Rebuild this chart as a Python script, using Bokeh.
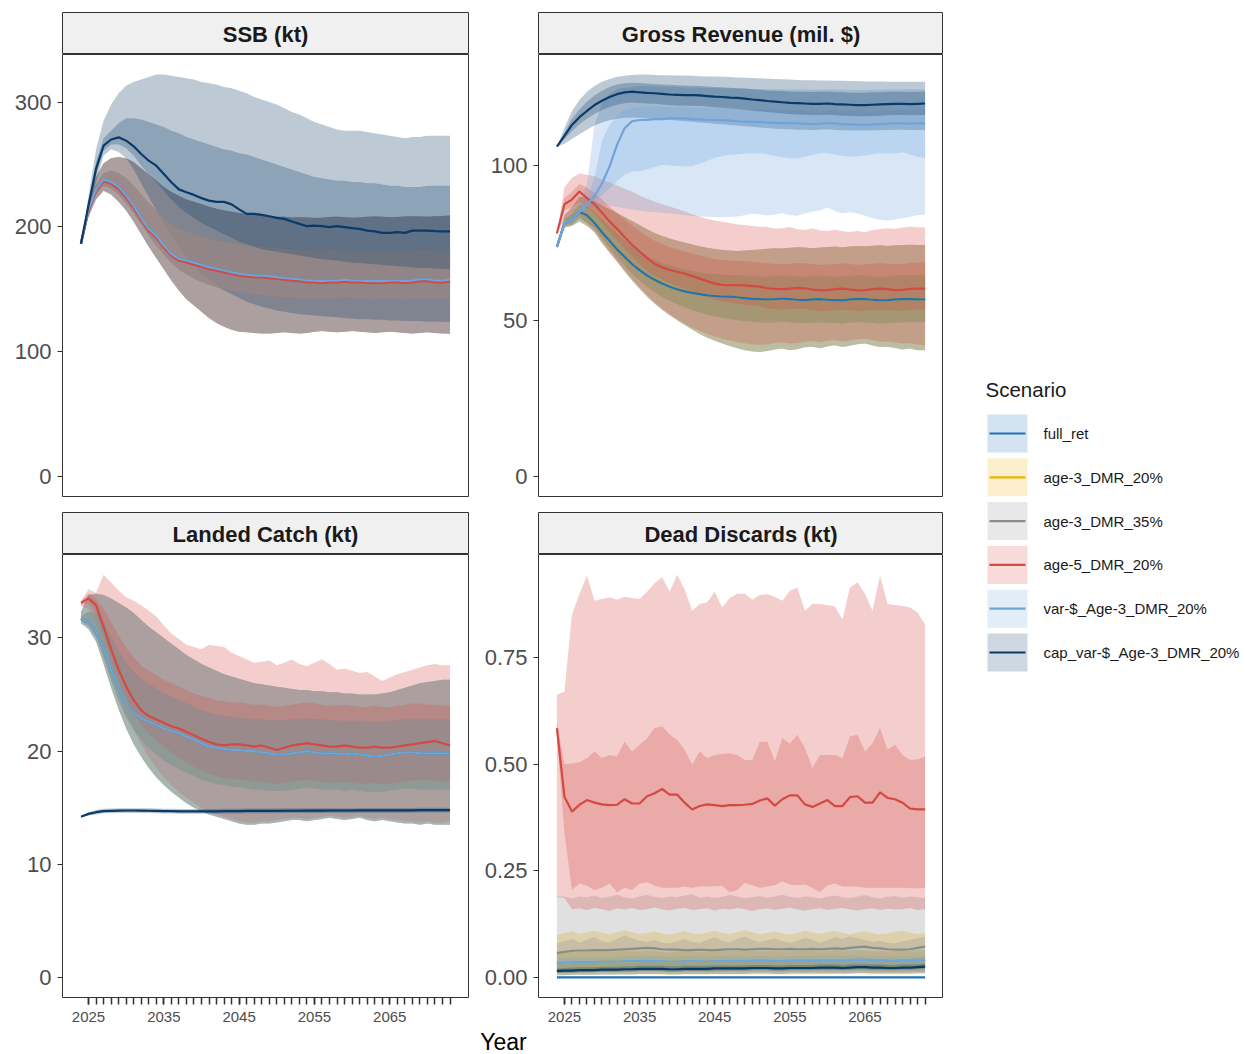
from bokeh.plotting import figure
from bokeh.layouts import column, row
from bokeh.models import Range1d, FixedTicker, NumeralTickFormatter
from bokeh.core.properties import value
from bokeh.embed import file_html
from bokeh.resources import INLINE

YEARS = list(range(2024, 2074))
SCENARIOS = ["full_ret", "age-3_DMR_20%", "age-3_DMR_35%", "age-5_DMR_20%",
             "var-$_Age-3_DMR_20%", "cap_var-$_Age-3_DMR_20%"]
COLORS = ["#2171b5", "#f0b400", "#8c8c8c", "#d44a43", "#6fa3dc", "#0a3a68"]
LINE_ORDER = [2, 1, 0, 3, 4, 5]
PANEL_TITLES = ["SSB (kt)", "Gross Revenue (mil. $)", "Landed Catch (kt)", "Dead Discards (kt)"]
X_LABEL_TICKS = [2025, 2035, 2045, 2055, 2065]
X_MINOR_TICKS = list(range(2025, 2074))
SSB_TICKS = [0, 100, 200, 300]
REV_TICKS = [0, 50, 100]
LAND_TICKS = [0, 10, 20, 30]
DISC_TICKS = [0, 0.25, 0.5, 0.75]

# ---------------- SSB (kt) ----------------
SSB_BASE_MED = [186.4, 214, 230, 238, 236, 232, 225, 217, 207, 198.4,
                193, 185, 178.4, 174.4, 173, 171.2, 169.6, 167.7, 166.4, 165,
                163.7, 162.4, 161.6, 161, 161, 160.5, 159.7, 159, 158.4, 158,
                157, 157, 156.5, 157, 157, 157.6, 157, 157, 156.5, 156.5,
                156.5, 157, 157, 156.5, 157, 158, 158, 157, 157, 157.6]
SSB_AGE5_MED = [186.4, 212.5, 228.5, 236.5, 234.5, 230.3, 223.2, 215.2, 205.4, 196.8,
                191.3, 183.4, 176.9, 172.8, 171.4, 169.7, 168.1, 166.1, 164.9, 163.5,
                162.2, 160.9, 160.1, 159.5, 159.4, 158.9, 158.2, 157.5, 156.9, 156.4,
                155.5, 155.4, 155, 155.4, 155.5, 156.1, 155.4, 155.5, 155, 154.9,
                155, 155.4, 155.5, 155, 155.5, 156.4, 156.5, 155.5, 155.4, 156]
SSB_BASE_HI90 = [186.4, 221, 240, 251, 255, 256, 255, 252, 247, 242,
                 237, 232, 228, 225, 222, 220, 218, 216, 214.5, 213,
                 212, 211, 210, 209.5, 209, 208.5, 208, 208, 207.5, 207.7,
                 207.5, 207, 207.3, 207.8, 208, 207.6, 207.2, 207.5, 208, 208.3,
                 208, 207.6, 207.8, 208.2, 208.5, 208.3, 208, 208.4, 208.7, 209]
SSB_BASE_HI50 = [186.4, 217, 234, 243, 245, 243, 239, 233, 226, 219,
                 213, 207, 202, 198.5, 196, 194, 192, 190.5, 189, 188,
                 187, 186, 185, 184.5, 184, 183.5, 183, 182.5, 182, 182,
                 181.5, 181, 181, 181.5, 181.5, 181, 181, 180.5, 180.5, 181,
                 181, 180.5, 180.5, 181, 181, 181.5, 181.5, 181, 181, 181]
SSB_BASE_LO50 = [186.4, 211, 226, 233, 231, 226, 219, 211, 202, 193,
                 185, 178, 171, 166, 162, 158.5, 156, 153.5, 151.5, 150,
                 148.5, 147.5, 146.5, 145.5, 145, 144.5, 144, 143.5, 143, 142.5,
                 142.5, 142, 142, 142.5, 142.5, 143, 142.5, 142, 141.5, 141.5,
                 142, 142, 142, 141.5, 142, 142.5, 142.5, 142, 142, 142.4]
SSB_BASE_LO90 = [186.4, 208, 222, 229, 226, 220, 213, 204, 194, 184,
                 175, 166, 157, 149, 142, 137, 132, 127, 123, 120,
                 117.5, 116, 115.5, 115, 114.5, 114.5, 115, 115.5, 115, 114.5,
                 115, 116, 116.5, 116, 115.5, 116, 116.5, 116, 115.5, 115,
                 115.5, 116, 115.5, 115, 114.5, 115, 115.5, 115, 114.5, 114.4]
SSB_CAP_MED = [186.4, 217, 246.4, 265, 270, 271.7, 269, 264.5, 258.4, 253,
               249, 242.4, 235.7, 230, 227.7, 225.6, 223, 221, 220, 220,
               218, 214, 210.4, 210.4, 209.6, 208.5, 207.2, 206.4, 204.3, 202.4,
               200.5, 201, 200.5, 199.7, 200.5, 199.7, 199, 198.4, 197, 196.3,
               195.2, 195.2, 195.7, 195.2, 197, 197, 197, 196.5, 196.3, 196.3]
SSB_CAP_HI90 = [186.4, 225, 262, 285, 298, 307, 313, 316, 318, 320,
                322, 322, 321, 320, 319, 318, 316, 315, 314, 312,
                311, 309, 307, 304, 302, 300, 298, 295, 292, 290,
                287, 284, 282, 280, 278, 277, 277, 277, 276, 275,
                274, 273, 272, 271, 272, 272, 273, 273, 273, 273]
SSB_CAP_HI50 = [186.4, 221, 252, 271, 277, 283, 287, 287, 286, 284,
                282, 280, 277, 275, 272, 270, 268, 266, 264, 262,
                261, 259, 258, 256, 254, 252, 250, 248, 246, 244,
                242, 240, 239, 238, 237, 237, 236, 236, 235, 235,
                234, 233, 233, 232, 232, 232, 233, 233, 233, 233]
SSB_CAP_LO50 = [186.4, 213, 241, 261, 266, 266, 263, 257, 249, 242,
                236, 229, 222, 216, 211, 207, 203, 200, 197, 194,
                191, 188, 186, 184, 182, 181, 180, 179, 178, 177,
                176, 175, 174, 173.5, 173, 172, 171.5, 171, 170.5, 170,
                169.5, 169, 168.5, 168, 167.5, 167, 167, 166.5, 166.5, 166]
SSB_CAP_LO90 = [186.4, 209, 236, 257, 262, 260, 255, 246, 235, 224,
                213, 203, 193, 184, 176, 169, 163, 158, 153, 149,
                146, 143, 140, 138, 136, 134.5, 133, 132, 131, 130,
                129.5, 129, 128.5, 128, 127.5, 127, 126.5, 126, 126, 125.5,
                125.5, 125, 125, 124.5, 124.5, 124.5, 124, 124, 124, 123.7]

# ---------------- Gross Revenue (mil. $) ----------------
REV_BASE_MED = [73.8, 81.3, 82.5, 85, 84, 81.5, 78.5, 75.8, 73, 70.6,
                68.3, 66.3, 64.6, 63.2, 62, 61, 60.2, 59.5, 59, 58.6,
                58.2, 58, 57.8, 57.8, 57.6, 57.3, 57.1, 57, 56.9, 57,
                57.2, 57, 56.8, 56.7, 56.9, 57, 56.8, 56.7, 56.6, 56.9,
                57.1, 57, 56.8, 56.6, 56.7, 56.9, 57, 57, 56.9, 56.9]
REV_BASE_HI90 = [73.8, 84, 86.5, 89.9, 89.4, 88.5, 87.2, 86, 84.7, 83.4,
                 82.1, 80.8, 79.5, 78.3, 77.3, 76.5, 75.8, 75.2, 74.6, 74,
                 73.5, 73.1, 72.8, 72.6, 72.5, 72.6, 72.8, 73, 73.2, 73.4,
                 73.3, 73.5, 73.7, 73.6, 73.4, 73.6, 73.8, 73.9, 73.7, 73.9,
                 74.1, 74, 74.2, 74.3, 74.1, 74.3, 74.4, 74.5, 74.4, 74.4]
REV_BASE_HI50 = [73.8, 82.5, 84.3, 87.3, 86.8, 85, 82.6, 80.3, 78, 75.9,
                 74, 72.3, 70.8, 69.6, 68.6, 67.8, 67.1, 66.5, 66, 65.6,
                 65.2, 65, 64.8, 64.8, 64.7, 64.5, 64.4, 64.3, 64.3, 64.4,
                 64.6, 64.4, 64.3, 64.2, 64.4, 64.5, 64.3, 64.2, 64.2, 64.4,
                 64.6, 64.5, 64.3, 64.2, 64.3, 64.5, 64.6, 64.6, 64.6, 64.7]
REV_BASE_LO50 = [73.8, 80.4, 81, 83, 81.5, 79.8, 76.6, 73.5, 70.5, 67.8,
                 65.2, 63, 61, 59.3, 57.8, 56.5, 55.4, 54.4, 53.5, 52.8,
                 52.1, 51.5, 51, 50.6, 50.3, 50, 49.8, 49.6, 49.5, 49.6,
                 49.8, 49.6, 49.4, 49.3, 49.5, 49.6, 49.4, 49.3, 49.2, 49.5,
                 49.7, 49.6, 49.4, 49.2, 49.3, 49.5, 49.6, 49.7, 49.6, 49.7]
REV_BASE_LO90 = [73.8, 80, 80.5, 82, 80.5, 78.5, 75, 72, 69, 66,
                 63, 60.3, 57.8, 55.6, 53.6, 51.8, 50.2, 48.7, 47.2, 45.8,
                 44.6, 43.6, 42.7, 41.9, 41.2, 40.6, 40.2, 40, 40.3, 40.8,
                 41.1, 40.6, 40.9, 41.5, 41.7, 41.2, 41.8, 42.2, 41.6, 42,
                 42.5, 42.7, 42.1, 41.6, 41.7, 41.3, 40.8, 41.1, 40.6, 40.6]
REV_AGE5_MED = [78.1, 87.5, 89, 91.6, 89.5, 87.5, 84.8, 82, 79.6, 77,
                74.5, 72.3, 70.2, 68.4, 67.2, 66.4, 65.8, 65.2, 64.4, 63.6,
                62.8, 62, 61.6, 61.5, 61.5, 61.4, 61.2, 61, 60.5, 60.3,
                60.2, 60.4, 60.6, 60.5, 60.1, 59.8, 59.9, 60.2, 60.4, 60.1,
                59.8, 59.9, 60.2, 60.4, 60.2, 59.9, 60, 60.3, 60.4, 60.4]
REV_AGE5_HI90 = [78.1, 93, 96, 97.4, 97, 96.5, 95.5, 94.5, 93.5, 92.5,
                 91.5, 90.3, 89.3, 88.3, 87.5, 86.8, 86, 85.2, 84.3, 83.5,
                 82.8, 82.3, 81.9, 81.5, 81, 80.8, 80.5, 80.3, 80.2, 79.6,
                 79.8, 80.2, 79.5, 79.2, 79.7, 79.1, 78.9, 79.3, 78.8, 78.6,
                 78.9, 78.5, 79.2, 79.5, 79.8, 79.6, 80, 80.3, 80.1, 80]
REV_AGE5_HI50 = [78.1, 89.5, 91.5, 94, 92.8, 91.2, 89, 86.8, 84.7, 82.6,
                 80.6, 78.8, 77.2, 75.8, 74.7, 73.8, 73, 72.3, 71.6, 71,
                 70.4, 69.9, 69.6, 69.4, 69.3, 69.2, 69, 68.8, 68.5, 68.3,
                 68.2, 68.4, 68.6, 68.5, 68.2, 68, 68.1, 68.3, 68.5, 68.3,
                 68, 68.1, 68.4, 68.6, 68.4, 68.2, 68.3, 68.6, 68.8, 68.9]
REV_AGE5_LO50 = [78.1, 85.5, 86.5, 88.5, 86.5, 84.6, 81.5, 78.6, 75.9, 73.2,
                 70.6, 68.3, 66.2, 64.5, 63.2, 62.1, 61.2, 60.4, 59.5, 58.6,
                 57.7, 56.8, 56.2, 55.8, 55.5, 55.2, 54.9, 54.6, 54.1, 53.8,
                 53.6, 53.8, 54, 53.9, 53.5, 53.1, 53.2, 53.5, 53.7, 53.4,
                 53.1, 53.2, 53.5, 53.7, 53.5, 53.2, 53.3, 53.6, 53.7, 53.7]
REV_AGE5_LO90 = [78.1, 82.5, 82.5, 84, 81.5, 79, 75.5, 72.3, 69.3, 66.3,
                 63.5, 60.8, 58.3, 56, 54, 52.2, 50.6, 49.2, 47.9, 46.8,
                 45.8, 45, 44.3, 43.7, 43.2, 42.8, 42.5, 42.3, 42.5, 42.9,
                 43.1, 42.7, 42.9, 43.3, 43.5, 43.1, 43.6, 43.9, 43.4, 43.7,
                 44.1, 44.3, 43.8, 43.3, 43.4, 43.1, 42.7, 42.9, 42.4, 42.2]
REV_VAR_MED = [73.8, 81.3, 82.5, 85, 87.4, 90.1, 94.2, 99.6, 106.6, 111.9,
               114.2, 114.6, 114.6, 114.9, 114.9, 115.1, 115.1, 115.1, 114.9, 114.8,
               114.6, 114.6, 114.5, 114.4, 114.2, 114.1, 114, 113.9, 113.8, 113.7,
               113.6, 113.6, 113.5, 113.4, 113.3, 113.4, 113.6, 113.5, 113.3, 113.2,
               113.1, 113, 113.2, 113.3, 113.4, 113.5, 113.5, 113.4, 113.5, 113.5]
REV_VAR_HI90 = [73.8, 82.5, 84.5, 88, 94, 113, 120, 123, 124.5, 125,
                125.3, 125.5, 125.6, 125.5, 125.4, 125.3, 125.2, 125.1, 125, 125,
                124.9, 124.9, 124.8, 124.8, 124.7, 124.7, 124.6, 124.6, 124.5, 124.5,
                124.5, 124.4, 124.4, 124.4, 124.3, 124.3, 124.4, 124.4, 124.3, 124.3,
                124.2, 124.2, 124.3, 124.3, 124.4, 124.4, 124.5, 124.5, 124.5, 124.5]
REV_VAR_HI50 = [73.8, 81.8, 83.2, 86, 89, 96, 108, 113, 116, 117.8,
                118.5, 118.8, 118.9, 118.9, 118.8, 118.8, 118.7, 118.7, 118.6, 118.5,
                118.4, 118.4, 118.3, 118.2, 118.1, 118, 118, 117.9, 117.9, 117.8,
                117.8, 117.7, 117.7, 117.6, 117.6, 117.6, 117.7, 117.7, 117.6, 117.5,
                117.5, 117.4, 117.5, 117.6, 117.7, 117.8, 117.8, 117.8, 117.9, 118]
REV_VAR_LO50 = [73.8, 80.8, 81.8, 84, 86.5, 88.5, 90.5, 92.5, 95, 97,
                98, 98.1, 98.8, 99.5, 100.2, 100, 99.8, 99.7, 99.7, 100.5,
                101.5, 102.5, 103, 103.4, 103.6, 103.8, 103.9, 103.9, 103.6, 103,
                102.6, 102.3, 102.3, 102.8, 103.4, 103.9, 103.9, 103.5, 103, 102.9,
                102.9, 103.2, 103.6, 103.9, 103.9, 103.9, 104.2, 103.5, 102.8, 102.3]
REV_VAR_LO90 = [73.8, 80.6, 81.5, 83.5, 85.6, 87, 87.2, 87, 86.6, 86.2,
                85.8, 85.5, 85.2, 85, 84.8, 84.5, 84.3, 84, 83.8, 83.6,
                83.5, 83.4, 83.3, 83.4, 83.6, 84, 84.5, 84.3, 83.9, 84.2,
                84.6, 84, 83.8, 84.5, 85.2, 85.5, 86.5, 85.3, 84.5, 84.9,
                84.5, 83.8, 83, 82.5, 82.3, 82.6, 83, 83.5, 84, 84.2]
REV_CAP_MED = [106, 109.5, 113, 115.5, 117.5, 119.4, 120.8, 122, 122.9, 123.5,
               123.7, 123.5, 123.3, 123.2, 123, 122.8, 122.7, 122.6, 122.6, 122.5,
               122.3, 122.1, 122, 121.8, 121.7, 121.5, 121.2, 121, 120.7, 120.5,
               120.3, 120.1, 120, 119.9, 119.8, 119.8, 119.9, 119.7, 119.6, 119.5,
               119.4, 119.4, 119.5, 119.6, 119.7, 119.8, 119.8, 119.7, 119.8, 119.9]
REV_CAP_HI90 = [106, 112, 117.5, 121, 123.7, 125.5, 126.9, 127.8, 128.5, 128.8,
                129.1, 129.2, 129.2, 129.1, 129, 129, 128.9, 128.9, 128.8, 128.7,
                128.6, 128.6, 128.5, 128.4, 128.3, 128.2, 128.1, 128, 127.9, 127.8,
                127.7, 127.6, 127.5, 127.4, 127.4, 127.3, 127.3, 127.2, 127.2, 127.1,
                127.1, 127, 127, 127, 126.9, 126.9, 126.9, 126.9, 126.9, 126.9]
REV_CAP_HI50 = [106, 110.5, 115, 118, 120.5, 122.5, 124, 125.2, 126, 126.4,
                126.6, 126.5, 126.3, 126.2, 126, 125.9, 125.8, 125.7, 125.6, 125.5,
                125.4, 125.2, 125.1, 125, 124.8, 124.7, 124.5, 124.3, 124.1, 124,
                123.9, 123.8, 123.7, 123.7, 123.6, 123.7, 123.8, 123.6, 123.5, 123.4,
                123.4, 123.4, 123.5, 123.5, 123.6, 123.7, 123.7, 123.6, 123.7, 123.7]
REV_CAP_LO50 = [106, 108.5, 111, 113.2, 115, 116.5, 117.8, 118.8, 119.5, 120,
                120.2, 120.1, 119.9, 119.8, 119.6, 119.4, 119.3, 119.2, 119.2, 119.1,
                118.9, 118.7, 118.5, 118.3, 118.1, 117.9, 117.6, 117.4, 117.1, 116.9,
                116.7, 116.5, 116.4, 116.3, 116.2, 116.2, 116.3, 116.1, 116, 115.9,
                115.8, 115.8, 115.9, 116, 116.1, 116.2, 116.2, 116.1, 116.2, 116.2]
REV_CAP_LO90 = [106, 107, 108.5, 110, 111.5, 112.8, 113.8, 114.5, 115, 115.3,
                115.4, 115.3, 115.1, 115, 114.8, 114.6, 114.4, 114.2, 114, 113.8,
                113.6, 113.4, 113.2, 113, 112.8, 112.6, 112.4, 112.2, 112, 111.8,
                111.7, 111.6, 111.5, 111.5, 111.4, 111.5, 111.6, 111.4, 111.3, 111.2,
                111.2, 111.2, 111.3, 111.3, 111.4, 111.5, 111.5, 111.4, 111.4, 111.4]

# ---------------- Landed Catch (kt) ----------------
LAND_BASE_MED = [31.7, 31.4, 30.6, 29.1, 27.2, 25.5, 24.2, 23.4, 22.9, 22.6,
                 22.3, 22.0, 21.8, 21.6, 21.3, 21.0, 20.7, 20.4, 20.3, 20.2,
                 20.1, 20.1, 20.0, 20.0, 19.9, 19.8, 19.7, 19.7, 19.8, 19.9,
                 20.0, 19.9, 19.8, 19.8, 19.8, 19.7, 19.8, 19.7, 19.6, 19.5,
                 19.6, 19.7, 19.8, 19.9, 19.9, 19.8, 19.8, 19.8, 19.8, 19.8]
LAND_BASE_HI90 = [32.3, 33.8, 33.9, 33.8, 33.5, 33.1, 32.7, 32.2, 31.6, 31.0,
                  30.5, 30.0, 29.5, 29.0, 28.5, 28.1, 27.7, 27.4, 27.1, 26.8,
                  26.6, 26.4, 26.2, 26.0, 25.9, 25.8, 25.7, 25.6, 25.5, 25.4,
                  25.4, 25.3, 25.3, 25.2, 25.2, 25.1, 25.1, 25.0, 25.0, 25.0,
                  25.1, 25.2, 25.4, 25.6, 25.8, 26.0, 26.1, 26.2, 26.3, 26.3]
LAND_BASE_HI50 = [31.9, 32.3, 32.2, 31.4, 30.1, 28.8, 27.8, 27.0, 26.4, 25.9,
                  25.5, 25.1, 24.8, 24.5, 24.2, 23.9, 23.6, 23.4, 23.2, 23.1,
                  23.0, 22.9, 22.9, 22.8, 22.8, 22.7, 22.7, 22.7, 22.8, 22.8,
                  22.9, 22.8, 22.8, 22.7, 22.7, 22.6, 22.7, 22.6, 22.6, 22.5,
                  22.6, 22.6, 22.7, 22.8, 22.8, 22.8, 22.8, 22.8, 22.8, 22.8]
LAND_BASE_LO50 = [31.5, 31.1, 30.1, 28.3, 26.3, 24.5, 23.0, 21.9, 21.0, 20.3,
                  19.7, 19.2, 18.8, 18.4, 18.1, 17.8, 17.5, 17.3, 17.1, 17.0,
                  16.9, 16.8, 16.7, 16.6, 16.6, 16.5, 16.5, 16.5, 16.6, 16.7,
                  16.8, 16.7, 16.6, 16.6, 16.6, 16.5, 16.6, 16.5, 16.4, 16.4,
                  16.4, 16.5, 16.6, 16.7, 16.7, 16.6, 16.6, 16.6, 16.6, 16.6]
LAND_BASE_LO90 = [31.3, 30.8, 29.7, 27.7, 25.6, 23.7, 22.0, 20.6, 19.5, 18.5,
                  17.7, 17.0, 16.4, 15.9, 15.4, 15.0, 14.7, 14.4, 14.2, 14.0,
                  13.8, 13.6, 13.5, 13.5, 13.6, 13.6, 13.7, 13.8, 13.9, 13.9,
                  13.8, 13.9, 14.0, 14.1, 14.0, 13.9, 14.0, 14.1, 13.9, 13.8,
                  13.9, 13.8, 13.7, 13.6, 13.6, 13.5, 13.6, 13.5, 13.5, 13.5]
LAND_AGE5_MED = [33.1, 33.5, 32.9, 31.0, 29.0, 27.2, 25.7, 24.5, 23.6, 23.1,
                 22.8, 22.5, 22.2, 22.0, 21.7, 21.4, 21.1, 20.8, 20.6, 20.5,
                 20.6, 20.6, 20.5, 20.4, 20.5, 20.3, 20.1, 20.3, 20.5, 20.6,
                 20.7, 20.6, 20.5, 20.4, 20.4, 20.5, 20.4, 20.3, 20.3, 20.4,
                 20.3, 20.3, 20.4, 20.5, 20.6, 20.7, 20.8, 20.9, 20.7, 20.5]
LAND_AGE5_HI90 = [33.2, 34.3, 34.0, 35.6, 34.9, 34.2, 33.6, 33.3, 32.9, 32.4,
                  31.9, 31.1, 30.4, 29.9, 29.4, 29.2, 29.0, 29.4, 29.3, 29.2,
                  28.7, 28.4, 28.1, 27.8, 27.9, 28.0, 27.6, 27.8, 28.1, 27.7,
                  27.5, 27.8, 28.1, 27.7, 27.2, 27.3, 27.1, 26.9, 27.0, 26.6,
                  26.2, 26.5, 26.8, 27.0, 27.2, 27.4, 27.6, 27.7, 27.6, 27.6]
LAND_AGE5_HI50 = [33.3, 33.9, 33.5, 32.6, 31.4, 30.2, 29.2, 28.3, 27.6, 27.1,
                  26.7, 26.3, 26.0, 25.7, 25.4, 25.1, 24.9, 24.7, 24.5, 24.4,
                  24.3, 24.3, 24.2, 24.1, 24.1, 24.0, 23.9, 24.0, 24.1, 24.2,
                  24.3, 24.2, 24.1, 24.0, 24.0, 24.1, 24.0, 23.9, 23.9, 24.0,
                  23.9, 23.9, 24.0, 24.1, 24.2, 24.2, 24.1, 24.1, 24.0, 24.0]
LAND_AGE5_LO50 = [32.9, 33.1, 32.2, 30.1, 28.0, 26.2, 24.6, 23.3, 22.3, 21.5,
                  20.9, 20.4, 19.9, 19.4, 19.0, 18.6, 18.3, 18.0, 17.8, 17.6,
                  17.5, 17.5, 17.4, 17.3, 17.3, 17.2, 17.1, 17.2, 17.3, 17.4,
                  17.4, 17.4, 17.3, 17.2, 17.2, 17.3, 17.2, 17.1, 17.1, 17.2,
                  17.1, 17.1, 17.2, 17.3, 17.4, 17.4, 17.4, 17.4, 17.3, 17.3]
LAND_AGE5_LO90 = [32.8, 32.6, 31.3, 29.2, 27.0, 25.1, 23.4, 21.9, 20.6, 19.5,
                  18.5, 17.7, 17.0, 16.4, 15.9, 15.4, 15.0, 14.7, 14.4, 14.2,
                  14.0, 13.8, 13.7, 13.7, 13.8, 13.8, 13.9, 14.0, 14.1, 14.1,
                  14.0, 14.1, 14.2, 14.3, 14.2, 14.1, 14.2, 14.3, 14.1, 14.0,
                  14.1, 14.0, 13.9, 13.8, 13.8, 13.7, 13.8, 13.7, 13.7, 13.8]
LAND_CAP_MED = [14.2, 14.45, 14.6, 14.7, 14.72, 14.74, 14.75, 14.75, 14.74, 14.73,
                14.72, 14.7, 14.69, 14.68, 14.68, 14.67, 14.67, 14.68, 14.68, 14.69,
                14.7, 14.7, 14.71, 14.71, 14.72, 14.72, 14.72, 14.73, 14.73, 14.73,
                14.74, 14.74, 14.74, 14.75, 14.75, 14.75, 14.75, 14.76, 14.76, 14.76,
                14.76, 14.77, 14.77, 14.77, 14.77, 14.78, 14.78, 14.78, 14.78, 14.78]
LAND_CAP_HI90 = [14.2, 14.6, 14.8, 14.9, 14.93, 14.95, 14.96, 14.96, 14.95, 14.94,
                 14.93, 14.91, 14.9, 14.89, 14.89, 14.88, 14.88, 14.89, 14.89, 14.9,
                 14.91, 14.91, 14.92, 14.92, 14.93, 14.93, 14.93, 14.94, 14.94, 14.94,
                 14.95, 14.95, 14.95, 14.96, 14.96, 14.96, 14.96, 14.97, 14.97, 14.97,
                 14.97, 14.98, 14.98, 14.98, 14.98, 14.99, 14.99, 14.99, 14.99, 14.99]
LAND_CAP_HI50 = [14.2, 14.52, 14.68, 14.78, 14.8, 14.82, 14.83, 14.83, 14.82, 14.81,
                 14.8, 14.78, 14.77, 14.76, 14.76, 14.75, 14.75, 14.76, 14.76, 14.77,
                 14.78, 14.78, 14.79, 14.79, 14.8, 14.8, 14.8, 14.81, 14.81, 14.81,
                 14.82, 14.82, 14.82, 14.83, 14.83, 14.83, 14.83, 14.84, 14.84, 14.84,
                 14.84, 14.85, 14.85, 14.85, 14.85, 14.86, 14.86, 14.86, 14.86, 14.86]
LAND_CAP_LO50 = [14.2, 14.38, 14.52, 14.62, 14.64, 14.66, 14.67, 14.67, 14.66, 14.65,
                 14.64, 14.62, 14.61, 14.6, 14.6, 14.59, 14.59, 14.6, 14.6, 14.61,
                 14.62, 14.62, 14.63, 14.63, 14.64, 14.64, 14.64, 14.65, 14.65, 14.65,
                 14.66, 14.66, 14.66, 14.67, 14.67, 14.67, 14.67, 14.68, 14.68, 14.68,
                 14.68, 14.69, 14.69, 14.69, 14.69, 14.7, 14.7, 14.7, 14.7, 14.7]
LAND_CAP_LO90 = [14.2, 14.3, 14.4, 14.5, 14.51, 14.53, 14.54, 14.54, 14.53, 14.52,
                 14.51, 14.49, 14.48, 14.47, 14.47, 14.46, 14.46, 14.47, 14.47, 14.48,
                 14.49, 14.49, 14.5, 14.5, 14.51, 14.51, 14.51, 14.52, 14.52, 14.52,
                 14.53, 14.53, 14.53, 14.54, 14.54, 14.54, 14.54, 14.55, 14.55, 14.55,
                 14.55, 14.56, 14.56, 14.56, 14.56, 14.57, 14.57, 14.57, 14.57, 14.57]

# ---------------- Dead Discards (kt) ----------------
DISC_FULL = [0, 0, 0, 0, 0, 0, 0, 0, 0, 0,
             0, 0, 0, 0, 0, 0, 0, 0, 0, 0,
             0, 0, 0, 0, 0, 0, 0, 0, 0, 0,
             0, 0, 0, 0, 0, 0, 0, 0, 0, 0,
             0, 0, 0, 0, 0, 0, 0, 0, 0, 0]
DISC_A320_MED = [0.034, 0.035, 0.035, 0.036, 0.036, 0.036, 0.037, 0.037, 0.037, 0.038,
                 0.038, 0.038, 0.039, 0.038, 0.038, 0.037, 0.037, 0.038, 0.038, 0.038,
                 0.037, 0.038, 0.038, 0.039, 0.039, 0.038, 0.039, 0.039, 0.039, 0.038,
                 0.038, 0.039, 0.039, 0.038, 0.039, 0.039, 0.039, 0.040, 0.039, 0.040,
                 0.040, 0.039, 0.039, 0.039, 0.038, 0.038, 0.039, 0.039, 0.040, 0.040]
DISC_A320_HI90 = [0.100, 0.104, 0.108, 0.102, 0.106, 0.110, 0.104, 0.101, 0.106, 0.111,
                  0.105, 0.102, 0.104, 0.108, 0.103, 0.100, 0.104, 0.109, 0.103, 0.101,
                  0.105, 0.110, 0.104, 0.102, 0.106, 0.111, 0.105, 0.101, 0.104, 0.108,
                  0.103, 0.100, 0.104, 0.110, 0.105, 0.102, 0.106, 0.109, 0.104, 0.101,
                  0.105, 0.108, 0.104, 0.101, 0.103, 0.107, 0.110, 0.105, 0.102, 0.104]
DISC_A320_HI50 = [0.055, 0.058, 0.060, 0.058, 0.061, 0.063, 0.059, 0.058, 0.061, 0.064,
                  0.060, 0.058, 0.060, 0.062, 0.059, 0.057, 0.060, 0.063, 0.059, 0.058,
                  0.060, 0.063, 0.060, 0.058, 0.061, 0.064, 0.060, 0.058, 0.060, 0.062,
                  0.059, 0.057, 0.060, 0.063, 0.060, 0.058, 0.061, 0.063, 0.060, 0.058,
                  0.060, 0.062, 0.060, 0.058, 0.059, 0.061, 0.063, 0.060, 0.059, 0.060]
DISC_A320_LO50 = [0.016, 0.017, 0.018, 0.018, 0.018, 0.019, 0.019, 0.018, 0.019, 0.019,
                  0.019, 0.020, 0.020, 0.019, 0.019, 0.018, 0.018, 0.019, 0.019, 0.019,
                  0.018, 0.019, 0.019, 0.020, 0.020, 0.019, 0.020, 0.020, 0.020, 0.019,
                  0.019, 0.020, 0.020, 0.019, 0.020, 0.020, 0.020, 0.020, 0.020, 0.020,
                  0.021, 0.020, 0.020, 0.020, 0.019, 0.019, 0.020, 0.020, 0.020, 0.021]
DISC_A320_LO90 = [0.005, 0.005, 0.006, 0.006, 0.006, 0.006, 0.007, 0.006, 0.007, 0.007,
                  0.007, 0.007, 0.007, 0.007, 0.006, 0.006, 0.006, 0.007, 0.007, 0.007,
                  0.006, 0.007, 0.007, 0.007, 0.007, 0.007, 0.007, 0.007, 0.007, 0.007,
                  0.007, 0.007, 0.007, 0.007, 0.007, 0.007, 0.007, 0.008, 0.007, 0.008,
                  0.008, 0.007, 0.007, 0.007, 0.007, 0.007, 0.007, 0.007, 0.008, 0.008]
DISC_A335_MED = [0.057, 0.060, 0.062, 0.063, 0.063, 0.064, 0.064, 0.064, 0.065, 0.066,
                 0.067, 0.068, 0.069, 0.068, 0.066, 0.065, 0.065, 0.064, 0.064, 0.065,
                 0.064, 0.064, 0.065, 0.066, 0.066, 0.065, 0.066, 0.067, 0.067, 0.066,
                 0.066, 0.067, 0.066, 0.066, 0.067, 0.066, 0.067, 0.068, 0.067, 0.069,
                 0.071, 0.072, 0.069, 0.068, 0.066, 0.065, 0.065, 0.066, 0.069, 0.072]
DISC_A335_HI90 = [0.190, 0.190, 0.185, 0.190, 0.188, 0.192, 0.186, 0.190, 0.194, 0.188,
                  0.185, 0.190, 0.193, 0.189, 0.186, 0.190, 0.188, 0.192, 0.195, 0.187,
                  0.190, 0.186, 0.189, 0.193, 0.190, 0.186, 0.188, 0.191, 0.187, 0.190,
                  0.194, 0.189, 0.186, 0.190, 0.188, 0.185, 0.189, 0.192, 0.188, 0.186,
                  0.190, 0.193, 0.188, 0.185, 0.189, 0.191, 0.187, 0.190, 0.188, 0.186]
DISC_A335_HI50 = [0.080, 0.085, 0.090, 0.082, 0.088, 0.095, 0.085, 0.082, 0.090, 0.098,
                  0.092, 0.086, 0.083, 0.088, 0.082, 0.080, 0.085, 0.090, 0.083, 0.081,
                  0.088, 0.094, 0.086, 0.082, 0.090, 0.096, 0.088, 0.083, 0.087, 0.092,
                  0.085, 0.081, 0.086, 0.093, 0.088, 0.082, 0.087, 0.095, 0.090, 0.096,
                  0.092, 0.088, 0.083, 0.086, 0.082, 0.080, 0.084, 0.088, 0.092, 0.095]
DISC_A335_LO50 = [0.032, 0.034, 0.035, 0.036, 0.035, 0.036, 0.037, 0.036, 0.037, 0.038,
                  0.038, 0.039, 0.039, 0.038, 0.037, 0.037, 0.036, 0.036, 0.037, 0.037,
                  0.036, 0.037, 0.037, 0.038, 0.038, 0.037, 0.038, 0.038, 0.039, 0.038,
                  0.038, 0.038, 0.038, 0.038, 0.039, 0.038, 0.039, 0.039, 0.039, 0.040,
                  0.041, 0.041, 0.040, 0.039, 0.038, 0.038, 0.038, 0.039, 0.040, 0.041]
DISC_A335_LO90 = [0.010, 0.011, 0.012, 0.012, 0.012, 0.013, 0.013, 0.012, 0.013, 0.013,
                  0.013, 0.014, 0.014, 0.013, 0.013, 0.012, 0.012, 0.013, 0.013, 0.013,
                  0.012, 0.013, 0.013, 0.014, 0.014, 0.013, 0.014, 0.014, 0.014, 0.013,
                  0.013, 0.014, 0.014, 0.013, 0.014, 0.014, 0.014, 0.014, 0.014, 0.014,
                  0.015, 0.014, 0.014, 0.014, 0.013, 0.013, 0.014, 0.014, 0.014, 0.015]
DISC_A5_MED = [0.585, 0.424, 0.389, 0.405, 0.416, 0.410, 0.406, 0.404, 0.405, 0.418,
               0.408, 0.408, 0.425, 0.432, 0.442, 0.429, 0.429, 0.410, 0.394, 0.402,
               0.406, 0.404, 0.402, 0.404, 0.404, 0.405, 0.407, 0.415, 0.420, 0.403,
               0.418, 0.427, 0.427, 0.406, 0.400, 0.408, 0.416, 0.402, 0.402, 0.423,
               0.425, 0.410, 0.410, 0.434, 0.421, 0.418, 0.410, 0.396, 0.394, 0.394]
DISC_A5_HI90 = [0.663, 0.671, 0.852, 0.900, 0.943, 0.884, 0.888, 0.892, 0.886, 0.893,
                0.890, 0.888, 0.905, 0.925, 0.939, 0.905, 0.945, 0.910, 0.860, 0.876,
                0.880, 0.905, 0.868, 0.890, 0.900, 0.900, 0.886, 0.897, 0.899, 0.893,
                0.884, 0.907, 0.915, 0.860, 0.876, 0.876, 0.874, 0.870, 0.840, 0.915,
                0.927, 0.900, 0.860, 0.943, 0.876, 0.874, 0.872, 0.868, 0.856, 0.828]
DISC_A5_HI50 = [0.600, 0.500, 0.502, 0.505, 0.514, 0.530, 0.515, 0.522, 0.518, 0.553,
                0.530, 0.546, 0.561, 0.585, 0.589, 0.570, 0.557, 0.534, 0.499, 0.530,
                0.514, 0.522, 0.524, 0.526, 0.522, 0.510, 0.510, 0.553, 0.553, 0.507,
                0.561, 0.549, 0.569, 0.538, 0.491, 0.522, 0.522, 0.522, 0.514, 0.565,
                0.569, 0.530, 0.549, 0.585, 0.534, 0.546, 0.522, 0.510, 0.512, 0.518]
DISC_A5_LO50 = [0.570, 0.340, 0.205, 0.220, 0.215, 0.205, 0.210, 0.220, 0.200, 0.210,
                0.205, 0.220, 0.223, 0.215, 0.210, 0.210, 0.210, 0.213, 0.210, 0.213,
                0.213, 0.214, 0.215, 0.200, 0.205, 0.222, 0.216, 0.210, 0.213, 0.216,
                0.225, 0.218, 0.216, 0.218, 0.210, 0.200, 0.216, 0.220, 0.213, 0.213,
                0.213, 0.210, 0.210, 0.210, 0.210, 0.210, 0.210, 0.209, 0.209, 0.210]
DISC_A5_LO90 = [0.188, 0.186, 0.160, 0.162, 0.158, 0.163, 0.160, 0.156, 0.162, 0.159,
                0.163, 0.158, 0.160, 0.164, 0.159, 0.157, 0.161, 0.163, 0.158, 0.160,
                0.162, 0.157, 0.161, 0.159, 0.163, 0.160, 0.156, 0.160, 0.162, 0.158,
                0.161, 0.164, 0.159, 0.157, 0.160, 0.162, 0.158, 0.161, 0.163, 0.159,
                0.157, 0.160, 0.162, 0.158, 0.161, 0.159, 0.160, 0.163, 0.158, 0.160]
DISC_VAR_MED = [0.034, 0.035, 0.035, 0.036, 0.036, 0.036, 0.037, 0.037, 0.037, 0.038,
                0.038, 0.038, 0.039, 0.038, 0.038, 0.037, 0.037, 0.038, 0.038, 0.038,
                0.037, 0.038, 0.038, 0.039, 0.039, 0.038, 0.039, 0.039, 0.039, 0.038,
                0.038, 0.039, 0.039, 0.038, 0.039, 0.039, 0.039, 0.040, 0.039, 0.040,
                0.040, 0.039, 0.039, 0.039, 0.038, 0.038, 0.039, 0.039, 0.040, 0.040]
DISC_VAR_HI90 = [0.055, 0.057, 0.058, 0.060, 0.059, 0.061, 0.062, 0.060, 0.061, 0.063,
                 0.062, 0.061, 0.063, 0.062, 0.060, 0.059, 0.061, 0.062, 0.061, 0.060,
                 0.060, 0.062, 0.062, 0.063, 0.063, 0.061, 0.063, 0.063, 0.062, 0.061,
                 0.061, 0.063, 0.063, 0.061, 0.063, 0.063, 0.062, 0.064, 0.063, 0.064,
                 0.065, 0.063, 0.062, 0.062, 0.061, 0.061, 0.062, 0.063, 0.064, 0.065]
DISC_VAR_HI50 = [0.044, 0.045, 0.046, 0.047, 0.047, 0.047, 0.048, 0.048, 0.048, 0.049,
                 0.049, 0.049, 0.050, 0.049, 0.049, 0.048, 0.048, 0.049, 0.049, 0.049,
                 0.048, 0.049, 0.049, 0.050, 0.050, 0.049, 0.050, 0.050, 0.050, 0.049,
                 0.049, 0.050, 0.050, 0.049, 0.050, 0.050, 0.050, 0.051, 0.050, 0.051,
                 0.051, 0.050, 0.050, 0.050, 0.049, 0.049, 0.050, 0.050, 0.051, 0.051]
DISC_VAR_LO50 = [0.025, 0.026, 0.026, 0.027, 0.027, 0.027, 0.028, 0.028, 0.028, 0.028,
                 0.028, 0.028, 0.029, 0.028, 0.028, 0.027, 0.027, 0.028, 0.028, 0.028,
                 0.027, 0.028, 0.028, 0.029, 0.029, 0.028, 0.029, 0.029, 0.029, 0.028,
                 0.028, 0.029, 0.029, 0.028, 0.029, 0.029, 0.029, 0.030, 0.029, 0.030,
                 0.030, 0.029, 0.029, 0.029, 0.028, 0.028, 0.029, 0.029, 0.030, 0.030]
DISC_VAR_LO90 = [0.017, 0.018, 0.018, 0.019, 0.019, 0.019, 0.019, 0.019, 0.019, 0.020,
                 0.020, 0.020, 0.020, 0.020, 0.019, 0.019, 0.019, 0.020, 0.020, 0.020,
                 0.019, 0.020, 0.020, 0.020, 0.020, 0.020, 0.020, 0.020, 0.020, 0.020,
                 0.020, 0.020, 0.020, 0.020, 0.020, 0.020, 0.020, 0.021, 0.020, 0.021,
                 0.021, 0.020, 0.020, 0.020, 0.020, 0.020, 0.020, 0.020, 0.021, 0.021]
DISC_CAP_MED = [0.015, 0.016, 0.016, 0.017, 0.017, 0.017, 0.018, 0.018, 0.018, 0.019,
                0.019, 0.020, 0.020, 0.020, 0.020, 0.019, 0.019, 0.020, 0.020, 0.020,
                0.020, 0.021, 0.021, 0.021, 0.021, 0.021, 0.022, 0.022, 0.022, 0.021,
                0.021, 0.022, 0.022, 0.022, 0.022, 0.023, 0.023, 0.023, 0.022, 0.023,
                0.024, 0.024, 0.023, 0.023, 0.022, 0.022, 0.023, 0.023, 0.024, 0.025]
DISC_CAP_HI90 = [0.034, 0.035, 0.036, 0.037, 0.037, 0.037, 0.038, 0.038, 0.038, 0.039,
                 0.039, 0.040, 0.040, 0.040, 0.040, 0.039, 0.039, 0.040, 0.040, 0.040,
                 0.040, 0.041, 0.041, 0.041, 0.041, 0.041, 0.042, 0.042, 0.042, 0.041,
                 0.041, 0.042, 0.042, 0.042, 0.042, 0.043, 0.043, 0.043, 0.042, 0.043,
                 0.044, 0.044, 0.043, 0.043, 0.042, 0.042, 0.043, 0.043, 0.044, 0.045]
DISC_CAP_HI50 = [0.021, 0.022, 0.023, 0.024, 0.024, 0.024, 0.025, 0.025, 0.025, 0.026,
                 0.026, 0.027, 0.027, 0.027, 0.027, 0.026, 0.026, 0.027, 0.027, 0.027,
                 0.027, 0.028, 0.028, 0.028, 0.028, 0.028, 0.029, 0.029, 0.029, 0.028,
                 0.028, 0.029, 0.029, 0.029, 0.029, 0.030, 0.030, 0.030, 0.029, 0.030,
                 0.031, 0.031, 0.030, 0.030, 0.029, 0.029, 0.030, 0.030, 0.031, 0.032]
DISC_CAP_LO50 = [0.010, 0.011, 0.011, 0.012, 0.012, 0.012, 0.013, 0.013, 0.013, 0.014,
                 0.014, 0.015, 0.015, 0.015, 0.015, 0.014, 0.014, 0.015, 0.015, 0.015,
                 0.015, 0.016, 0.016, 0.016, 0.016, 0.016, 0.017, 0.017, 0.017, 0.016,
                 0.016, 0.017, 0.017, 0.017, 0.017, 0.018, 0.018, 0.018, 0.017, 0.018,
                 0.019, 0.019, 0.018, 0.018, 0.017, 0.017, 0.018, 0.018, 0.019, 0.020]
DISC_CAP_LO90 = [0.005, 0.005, 0.006, 0.006, 0.006, 0.006, 0.007, 0.007, 0.007, 0.007,
                 0.007, 0.008, 0.008, 0.008, 0.008, 0.007, 0.007, 0.008, 0.008, 0.008,
                 0.008, 0.008, 0.008, 0.008, 0.008, 0.008, 0.009, 0.009, 0.009, 0.008,
                 0.008, 0.009, 0.009, 0.009, 0.009, 0.009, 0.009, 0.009, 0.009, 0.009,
                 0.010, 0.010, 0.009, 0.009, 0.009, 0.009, 0.009, 0.009, 0.010, 0.010]

# scenario -> (lo90, lo50, median, hi50, hi90)
SSB_BASE = (SSB_BASE_LO90, SSB_BASE_LO50, SSB_BASE_MED, SSB_BASE_HI50, SSB_BASE_HI90)
SSB = {
    SCENARIOS[0]: SSB_BASE, SCENARIOS[1]: SSB_BASE, SCENARIOS[2]: SSB_BASE,
    SCENARIOS[3]: (SSB_BASE_LO90, SSB_BASE_LO50, SSB_AGE5_MED, SSB_BASE_HI50, SSB_BASE_HI90),
    SCENARIOS[4]: SSB_BASE,
    SCENARIOS[5]: (SSB_CAP_LO90, SSB_CAP_LO50, SSB_CAP_MED, SSB_CAP_HI50, SSB_CAP_HI90),
}
REV_BASE = (REV_BASE_LO90, REV_BASE_LO50, REV_BASE_MED, REV_BASE_HI50, REV_BASE_HI90)
REV = {
    SCENARIOS[0]: REV_BASE, SCENARIOS[1]: REV_BASE, SCENARIOS[2]: REV_BASE,
    SCENARIOS[3]: (REV_AGE5_LO90, REV_AGE5_LO50, REV_AGE5_MED, REV_AGE5_HI50, REV_AGE5_HI90),
    SCENARIOS[4]: (REV_VAR_LO90, REV_VAR_LO50, REV_VAR_MED, REV_VAR_HI50, REV_VAR_HI90),
    SCENARIOS[5]: (REV_CAP_LO90, REV_CAP_LO50, REV_CAP_MED, REV_CAP_HI50, REV_CAP_HI90),
}
LAND_BASE = (LAND_BASE_LO90, LAND_BASE_LO50, LAND_BASE_MED, LAND_BASE_HI50, LAND_BASE_HI90)
LAND = {
    SCENARIOS[0]: LAND_BASE, SCENARIOS[1]: LAND_BASE, SCENARIOS[2]: LAND_BASE,
    SCENARIOS[3]: (LAND_AGE5_LO90, LAND_AGE5_LO50, LAND_AGE5_MED, LAND_AGE5_HI50, LAND_AGE5_HI90),
    SCENARIOS[4]: LAND_BASE,
    SCENARIOS[5]: (LAND_CAP_LO90, LAND_CAP_LO50, LAND_CAP_MED, LAND_CAP_HI50, LAND_CAP_HI90),
}
DISC = {
    SCENARIOS[0]: (DISC_FULL, DISC_FULL, DISC_FULL, DISC_FULL, DISC_FULL),
    SCENARIOS[1]: (DISC_A320_LO90, DISC_A320_LO50, DISC_A320_MED, DISC_A320_HI50, DISC_A320_HI90),
    SCENARIOS[2]: (DISC_A335_LO90, DISC_A335_LO50, DISC_A335_MED, DISC_A335_HI50, DISC_A335_HI90),
    SCENARIOS[3]: (DISC_A5_LO90, DISC_A5_LO50, DISC_A5_MED, DISC_A5_HI50, DISC_A5_HI90),
    SCENARIOS[4]: (DISC_VAR_LO90, DISC_VAR_LO50, DISC_VAR_MED, DISC_VAR_HI50, DISC_VAR_HI90),
    SCENARIOS[5]: (DISC_CAP_LO90, DISC_CAP_LO50, DISC_CAP_MED, DISC_CAP_HI50, DISC_CAP_HI90),
}

FONT = "Liberation Sans"
BAND_ALPHA = 0.27
DARK = "#333333"
TICK_TXT = "#4d4d4d"
XPAD = 0.05 * (YEARS[-1] - YEARS[0])


def make_panel(data, yticks, frame_w, frame_h, left, right, bottom, show_x, fmt=None):
    ymax = max(max(v[4]) for v in data.values())
    p = figure(frame_width=frame_w, frame_height=frame_h,
               x_range=Range1d(YEARS[0] - XPAD, YEARS[-1] + XPAD),
               y_range=Range1d(-0.05 * ymax, 1.05 * ymax),
               output_backend="svg", toolbar_location=None,
               x_axis_location="below" if show_x else None,
               min_border_left=left, min_border_right=right,
               min_border_top=0, min_border_bottom=bottom)
    p.grid.visible = False
    p.outline_line_color = DARK
    p.outline_line_width = 1
    p.background_fill_color = "white"
    # outer (5-95%) ribbons, then inner (25-75%) ribbons, then medians
    for idx in ((0, 4), (1, 3)):
        for s, c in zip(SCENARIOS, COLORS):
            v = data[s]
            p.varea(x=YEARS, y1=v[idx[0]], y2=v[idx[1]], fill_color=c, fill_alpha=BAND_ALPHA)
    for i in LINE_ORDER:
        p.line(x=YEARS, y=data[SCENARIOS[i]][2], line_color=COLORS[i], line_width=2.2)
    ya = p.yaxis[0]
    ya.ticker = FixedTicker(ticks=yticks)
    if fmt is not None:
        ya.formatter = fmt
    ya.axis_line_color = None
    ya.major_tick_line_color = DARK
    ya.major_tick_out = 5
    ya.major_tick_in = 0
    ya.minor_tick_line_color = None
    ya.major_label_text_font = FONT
    ya.major_label_text_font_size = "22px"
    ya.major_label_text_color = TICK_TXT
    ya.major_label_standoff = 6
    if show_x:
        xa = p.xaxis[0]
        xa.ticker = FixedTicker(ticks=X_LABEL_TICKS, minor_ticks=X_MINOR_TICKS)
        xa.axis_line_color = None
        xa.major_tick_line_color = DARK
        xa.minor_tick_line_color = DARK
        xa.major_tick_line_width = 1.5
        xa.minor_tick_line_width = 1.5
        xa.major_tick_out = 7
        xa.major_tick_in = 0
        xa.minor_tick_out = 7
        xa.minor_tick_in = 0
        xa.major_label_text_font = FONT
        xa.major_label_text_font_size = "15px"
        xa.major_label_text_color = TICK_TXT
        xa.major_label_standoff = 7
    return p


def make_strip(title, frame_w, left, right, top):
    s = figure(frame_width=frame_w, frame_height=42, x_range=Range1d(0, 1), y_range=Range1d(0, 1),
               output_backend="svg", toolbar_location=None,
               x_axis_location=None, y_axis_location=None,
               min_border_left=left, min_border_right=right, min_border_top=top, min_border_bottom=0)
    s.grid.visible = False
    s.background_fill_color = "#f0f0f0"
    s.outline_line_color = DARK
    s.outline_line_width = 1
    s.text(x=[0.5], y=[0.47], text=[title], text_align="center", text_baseline="middle",
           text_font=value(FONT), text_font_style="bold", text_font_size="22px", text_color="#1a1a1a")
    return s


LW, RW = 406, 405
L_LEFT, L_RIGHT = 62, 10
R_LEFT, R_RIGHT = 60, 0
TOP = 12
BOTTOM_AXIS = 29

s1 = make_strip(PANEL_TITLES[0], LW, L_LEFT, L_RIGHT, TOP)
p1 = make_panel(SSB, SSB_TICKS, LW, 442, L_LEFT, L_RIGHT, 16, False)
s3 = make_strip(PANEL_TITLES[2], LW, L_LEFT, L_RIGHT, 0)
p3 = make_panel(LAND, LAND_TICKS, LW, 443, L_LEFT, L_RIGHT, BOTTOM_AXIS, True)

s2 = make_strip(PANEL_TITLES[1], RW, R_LEFT, R_RIGHT, TOP)
p2 = make_panel(REV, REV_TICKS, RW, 442, R_LEFT, R_RIGHT, 16, False)
s4 = make_strip(PANEL_TITLES[3], RW, R_LEFT, R_RIGHT, 0)
p4 = make_panel(DISC, DISC_TICKS, RW, 443, R_LEFT, R_RIGHT, BOTTOM_AXIS, True,
                fmt=NumeralTickFormatter(format="0.00"))

MAIN_H = TOP + 42 + 442 + 16 + 42 + 443 + BOTTOM_AXIS   # 1026
MAIN_W = L_LEFT + LW + L_RIGHT + R_LEFT + RW + R_RIGHT  # 943

# legend
LEG_W = 1245 - MAIN_W
lg = figure(frame_width=LEG_W, frame_height=MAIN_H, x_range=Range1d(0, LEG_W), y_range=Range1d(0, MAIN_H),
            output_backend="svg", toolbar_location=None, x_axis_location=None, y_axis_location=None,
            min_border_left=0, min_border_right=0, min_border_top=0, min_border_bottom=0)
lg.grid.visible = False
lg.outline_line_color = None
key_y = [MAIN_H - (433 + 43.8 * i) for i in range(len(SCENARIOS))]
lg.quad(left=[44] * 6, right=[84] * 6, top=[y + 19 for y in key_y], bottom=[y - 19 for y in key_y],
        fill_color=COLORS, fill_alpha=0.2, line_color=None)
lg.segment(x0=[46] * 6, y0=key_y, x1=[82] * 6, y1=key_y, line_color=COLORS, line_width=2.2)
lg.text(x=[100] * 6, y=key_y, text=SCENARIOS, text_baseline="middle", text_align="left",
        text_font=value(FONT), text_font_size="15px", text_color="#1a1a1a")
lg.text(x=[42], y=[MAIN_H - 389], text=["Scenario"], text_baseline="middle", text_align="left",
        text_font=value(FONT), text_font_size="20.5px", text_color="#1a1a1a")

# shared x-axis title
YEAR_H = 1054 - MAIN_H
yf = figure(frame_width=MAIN_W, frame_height=YEAR_H, x_range=Range1d(0, MAIN_W), y_range=Range1d(0, YEAR_H),
            output_backend="svg", toolbar_location=None, x_axis_location=None, y_axis_location=None,
            min_border_left=0, min_border_right=0, min_border_top=0, min_border_bottom=0)
yf.grid.visible = False
yf.outline_line_color = None
yf.text(x=[503], y=[YEAR_H / 2 - 1], text=["Year"], text_align="center", text_baseline="middle",
        text_font=value(FONT), text_font_size="23px", text_color="#000000")

left_col = column(s1, p1, s3, p3)
right_col = column(s2, p2, s4, p4)
layout = column(row(left_col, right_col, lg), yf)

open("out.html", "w").write(file_html(layout, INLINE))
